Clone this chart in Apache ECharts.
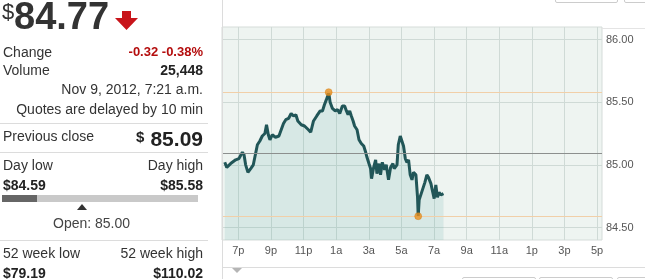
<!DOCTYPE html>
<html>
<head>
<meta charset="utf-8">
<script src="https://cdn.jsdelivr.net/npm/echarts@6/dist/echarts.min.js"></script>
<style>
  html, body { margin:0; padding:0; background:#fff; }
  body { width:645px; height:279px; position:relative; overflow:hidden; font-family:Arial, "Liberation Sans", sans-serif; color:#333; }
  #chart { position:absolute; left:0; top:0; width:645px; height:279px; }
  .t { position:absolute; white-space:nowrap; font-size:14px; line-height:16px; color:#333; }
  .r { right:442px; text-align:right; }
  .b { font-weight:bold; color:#222; }
  .sep { position:absolute; left:0; width:208px; height:1px; background:#dcdcdc; }
  .ln { position:absolute; background:#dcdcdc; }
</style>
</head>
<body>
<div id="chart"></div>

<!-- left quote panel -->
<div class="t" style="left:2px;top:1px;font-size:22px;line-height:22px;color:#333;">$</div>
<div class="t" style="left:14px;top:-3px;font-size:38px;line-height:38px;font-weight:bold;color:#333;">84.77</div>
<svg style="position:absolute;left:114px;top:9px;" width="26" height="24" viewBox="0 0 26 24">
  <polygon points="8,2 17,2 17,9 24,9 12.5,21 1,9 8,9" fill="#c8141a"/>
</svg>

<div class="t" style="left:3px;top:44px;">Change</div>
<div class="t r b" style="top:44px;font-size:13px;color:#b40d0d;">-0.32 -0.38%</div>
<div class="t" style="left:3px;top:62px;">Volume</div>
<div class="t r b" style="top:62px;">25,448</div>
<div class="t r" style="top:81px;">Nov 9, 2012, 7:21 a.m.</div>
<div class="t r" style="top:101px;">Quotes are delayed by 10 min</div>
<div class="sep" style="top:123px;"></div>

<div class="t" style="left:3px;top:128px;">Previous close</div>
<div class="t b" style="left:136px;top:129px;font-size:15px;">$</div>
<div class="t r b" style="top:128px;font-size:21px;line-height:22px;">85.09</div>
<div class="sep" style="top:152px;"></div>

<div class="t" style="left:3px;top:157px;">Day low</div>
<div class="t r" style="top:157px;">Day high</div>
<div class="t b" style="left:3px;top:177px;">$84.59</div>
<div class="t r b" style="top:177px;">$85.58</div>
<div style="position:absolute;left:2px;top:195px;width:196px;height:7px;background:#c9c9c9;"></div>
<div style="position:absolute;left:2px;top:195px;width:35px;height:7px;background:#666;"></div>
<svg style="position:absolute;left:77px;top:204px;" width="10" height="6" viewBox="0 0 10 6"><polygon points="5,0 10,6 0,6" fill="#333"/></svg>
<div class="t" style="left:53px;top:215px;color:#444;">Open: 85.00</div>
<div class="sep" style="top:240px;"></div>

<div class="t" style="left:3px;top:245px;">52 week low</div>
<div class="t r" style="top:245px;">52 week high</div>
<div class="t b" style="left:3px;top:265px;">$79.19</div>
<div class="t r b" style="top:265px;">$110.02</div>

<!-- frame lines of chart panel -->
<div class="ln" style="left:222px;top:0;width:1px;height:279px;"></div>
<div class="ln" style="left:222px;top:267px;width:423px;height:1px;"></div>
<div class="ln" style="left:601px;top:28px;width:44px;height:1px;background:#e4e4e4;"></div>
<svg style="position:absolute;left:232px;top:268px;" width="10" height="6" viewBox="0 0 10 6"><polygon points="0,0 10,0 5,5" fill="#b5b5b5"/></svg>
<div style="position:absolute;left:555px;top:-20px;width:61px;height:21px;border:1px solid #ccc;border-radius:2px;"></div>
<div style="position:absolute;left:624px;top:-20px;width:40px;height:21px;border:1px solid #ccc;border-radius:2px;"></div>
<div style="position:absolute;left:462px;top:277px;width:72px;height:20px;border:1px solid #ccc;border-radius:2px;"></div>
<div style="position:absolute;left:539px;top:277px;width:72px;height:20px;border:1px solid #ccc;border-radius:2px;"></div>
<div style="position:absolute;left:617px;top:277px;width:40px;height:20px;border:1px solid #ccc;border-radius:2px;"></div>

<script>
// hours since 6:00 p.m. (Nov 8) for each intraday quote
const times = [0.17,0.29,0.53,0.84,1.04,1.25,1.35,1.45,1.59,1.76,1.92,2.06,2.17,2.32,2.47,2.63,2.73,2.84,2.94,3.08,
  3.28,3.49,3.63,3.77,3.91,4.08,4.24,4.39,4.53,4.65,4.86,5.06,5.30,5.44,5.61,5.81,6.02,6.16,6.28,6.40,
  6.48,6.54,6.63,6.77,6.94,7.09,7.22,7.38,7.52,7.63,7.73,7.83,7.93,8.04,8.13,8.28,8.40,8.54,8.69,8.81,
  8.89,9.01,9.11,9.17,9.30,9.42,9.50,9.63,9.72,9.83,9.97,10.07,10.21,10.34,10.48,10.56,10.73,10.81,10.93,11.01,
  11.13,11.24,11.34,11.44,11.54,11.65,11.74,11.89,11.99,12.03,12.09,12.29,12.44,12.56,12.66,12.81,12.91,13.01,13.11,13.21,
  13.31,13.42,13.58];
const prices = [85.02,84.98,85.01,85.04,85.05,85.10,85.08,85.00,84.94,84.97,85.00,85.09,85.16,85.19,85.23,85.25,85.32,85.24,85.20,85.24,
  85.22,85.23,85.28,85.33,85.36,85.37,85.41,85.39,85.40,85.35,85.32,85.31,85.28,85.26,85.35,85.39,85.43,85.43,85.48,85.52,
  85.55,85.58,85.50,85.45,85.43,85.44,85.41,85.47,85.47,85.43,85.40,85.43,85.39,85.35,85.31,85.28,85.20,85.17,85.15,85.10,
  85.06,85.01,84.97,84.89,84.98,85.04,84.93,85.01,84.92,85.02,84.96,85.00,84.88,84.98,85.01,84.97,85.00,85.16,85.23,85.24,
  85.15,85.05,85.02,85.04,84.92,84.88,84.94,84.92,84.74,84.59,84.72,84.80,84.86,84.92,84.90,84.85,84.86,84.73,84.84,84.74,
  84.78,84.76,84.77];
const prevClose = 85.09;
const dayHigh = 85.58;
const dayLow = 84.59;
const extremeTimes = [6.54, 12.03];
const extremeValues = [85.58, 84.59];
const xTickHours = [1,3,5,7,9,11,13,15,17,19,21,23];
const xTickLabels = ['7p','9p','11p','1a','3a','5a','7a','9a','11a','1p','3p','5p'];
const yTickValues = [84.5, 85.0, 85.5, 86.0];

const chart = echarts.init(document.getElementById('chart'), null, {renderer:'canvas'});
const lineData = times.map((t,i) => [t, prices[i]]);
const dots = extremeTimes.map((t,i) => [t, extremeValues[i]]);
const gridColor = '#cfdad6';

chart.setOption({
  animation:false,
  backgroundColor:'transparent',
  grid:{ left:222, right:43, top:27, height:213, show:true, backgroundColor:'#eef4f1', borderColor:'#d5dcd9', borderWidth:1 },
  xAxis:{
    type:'value', min:0, max:23.3, interval:1,
    axisLine:{show:false}, axisTick:{show:false},
    splitLine:{show:true, showMinLine:true, showMaxLine:true, lineStyle:{color:['rgba(0,0,0,0)', gridColor], width:1}},
    axisLabel:{
      margin:5, fontSize:11, color:'#555', fontFamily:'Arial',
      showMinLabel:true, showMaxLabel:true,
      formatter:(v)=>{ const i = xTickHours.findIndex(h => Math.abs(h - v) < 1e-6); return i >= 0 ? xTickLabels[i] : ''; }
    }
  },
  yAxis:{
    type:'value', position:'right', min:84.4, max:86.1, interval:0.1,
    axisLine:{show:false}, axisTick:{show:false},
    splitLine:{show:true, showMinLine:true, showMaxLine:true, lineStyle:{color:['rgba(0,0,0,0)', gridColor, 'rgba(0,0,0,0)', 'rgba(0,0,0,0)', 'rgba(0,0,0,0)'], width:1}},
    axisLabel:{
      margin:4, fontSize:11, color:'#555', fontFamily:'Arial',
      formatter:(v)=>{ return yTickValues.some(y => Math.abs(y - v) < 1e-6) ? v.toFixed(2) : ''; }
    }
  },
  series:[
    {
      type:'line', data:lineData, showSymbol:false, z:3,
      lineStyle:{color:'#215658', width:3},
      areaStyle:{color:'rgba(80,165,158,0.2)', origin:'start'},
      markLine:{
        silent:true, symbol:'none', animation:false,
        label:{show:false},
        data:[
          {yAxis:prevClose, lineStyle:{color:'#8c8f8e', width:1, type:'solid'}},
          {yAxis:dayHigh, lineStyle:{color:'#f1cfa8', width:1, type:'solid'}},
          {yAxis:dayLow, lineStyle:{color:'#f1cfa8', width:1, type:'solid'}}
        ]
      }
    },
    {
      type:'scatter', data:dots, symbolSize:7, z:5,
      itemStyle:{color:'#e8901f', borderColor:'#d07a10', borderWidth:0.5}
    }
  ]
});
</script>
</body>
</html>
